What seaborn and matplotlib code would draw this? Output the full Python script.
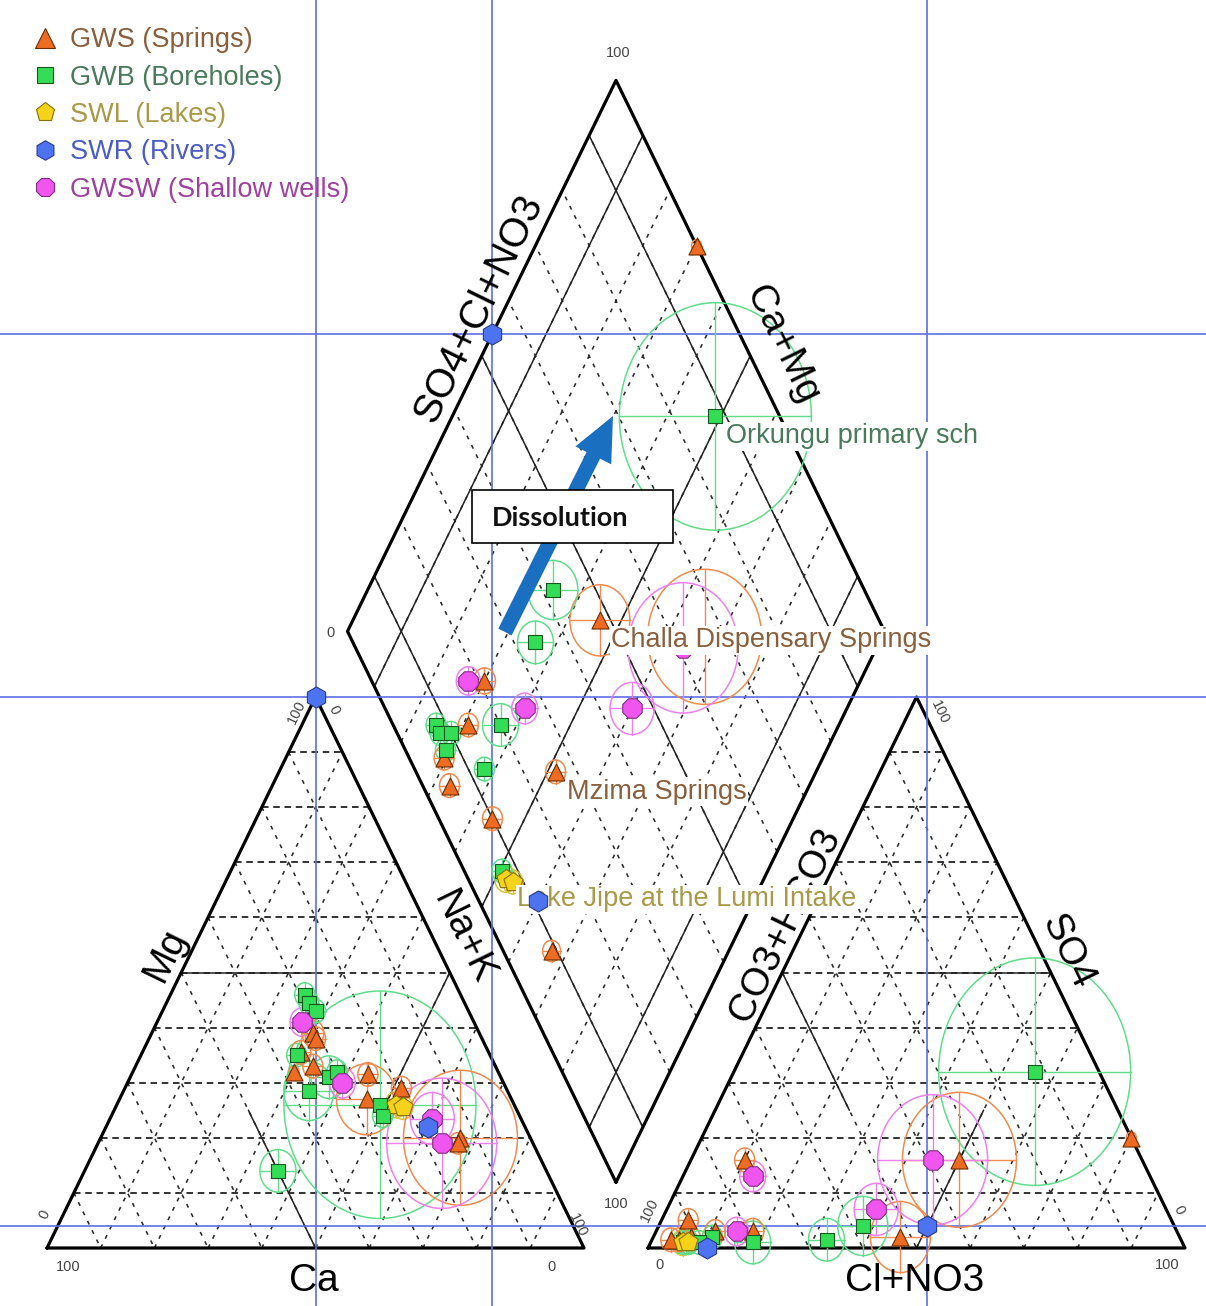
import numpy as np
import pandas as pd
import matplotlib
matplotlib.use("Agg")
import matplotlib.pyplot as plt
from matplotlib.patches import Ellipse, FancyArrow, Rectangle
from matplotlib.lines import Line2D
import seaborn as sns

# ---- data: one entry per sample (meq % of cations / anions, TDS mg/L) ----
groups = ["GWS", "GWB", "SWL", "SWR", "GWSW"]
group_labels = ["GWS (Springs)", "GWB (Boreholes)", "SWL (Lakes)",
                "SWR (Rivers)", "GWSW (Shallow wells)"]

sample_group = ["SWR", "SWR", "SWL", "SWL", "GWB", "GWS", "GWS", "GWS",
                "GWSW", "GWSW", "GWB", "GWB", "GWB", "GWSW", "GWSW", "GWS",
                "GWS", "GWS", "GWS", "GWB", "GWB", "GWB", "GWB", "GWB",
                "GWB", "GWS", "GWS", "GWS"]
ca = [0, 18, 22, 21, 25, 38, 27, 13, 17, 16.5, 37, 50, 32, 30, 32, 31,
      19.5, 24.5, 14, 25.5, 30, 29, 29, 28.5, 36, 31, 35, 34]
mg = [100, 22, 26, 25.5, 26, 32, 27, 20, 19, 23.5, 28.5, 14, 31, 30, 41, 39,
      29, 31.5, 19, 24, 32, 46, 44.5, 43, 35, 38, 35.5, 33]
nak = [0, 60, 52, 53.5, 49, 30, 46, 67, 64, 60, 34.5, 36, 37, 40, 27, 30,
       51.5, 44, 67, 50.5, 38, 25, 26.5, 28.5, 29, 31, 29.5, 33]
hco3 = [46, 89, 93, 92, 12, 0, 52, 34, 39, 54, 58, 66, 80, 74, 82, 79,
        74, 90, 91, 93, 87, 92, 92, 90, 92.5, 86, 93.5, 95]
so4 = [4, 0, 1, 1, 32, 20, 2, 16, 16, 7, 4, 1.5, 1, 13, 3, 3,
       16, 5, 2, 1, 2, 1, 1, 1, 1, 3, 1.5, 1.5]
cl = [50, 11, 6, 7, 56, 80, 46, 50, 45, 39, 38, 32.5, 19, 13, 15, 18,
      10, 5, 7, 6, 11, 7, 7, 9, 6.5, 11, 5, 3.5]
tds = [60, 80, 110, 100, 960, 50, 300, 570, 550, 220, 250, 180, 180, 130,
       120, 110, 100, 100, 90, 100, 100, 100, 100, 100, 100, 100, 100, 100]

sample_names = {4: "Orkungu primary sch", 6: "Challa Dispensary Springs",
                16: "Mzima Springs", 2: "Lake Jipe at the Lumi Intake"}
highlight = 0

# ---- styles ----
marker_of = {"GWS": "^", "GWB": "s", "SWL": "p", "SWR": "h", "GWSW": "8"}
size_of = {"GWS": 150, "GWB": 115, "SWL": 210, "SWR": 230, "GWSW": 230}
face_of = {"GWS": "#EE6B22", "GWB": "#33DD55", "SWL": "#F5D31A",
           "SWR": "#4E73F0", "GWSW": "#F055F0"}
edge_of = {"GWS": "#6A2C00", "GWB": "#14561E", "SWL": "#8A7000",
           "SWR": "#2A3A90", "GWSW": "#803080"}
ring_of = {"GWS": "#F08A4E", "GWB": "#60DD8A", "SWL": "#D8C440",
           "SWR": "#6A8AF0", "GWSW": "#EE80EE"}
text_of = {"GWS": "#8B5E3C", "GWB": "#4A7A5C", "SWL": "#A89A48",
           "SWR": "#4B5BC8", "GWSW": "#A040A0"}

sns.set_theme(style="white")
plt.rcParams["font.family"] = ["Liberation Sans", "DejaVu Sans"]

# ---- geometry (pixel space) ----
W, H = 537.0, 551.0
X0, YB, GAP = 47.0, 1248.0, 64.0
STRETCH = H / (W * np.sqrt(3) / 2)
R_SCALE = 0.1

L_ca = np.array([X0, YB])
L_na = np.array([X0 + W, YB])
L_mg = np.array([X0 + W / 2, YB - H])
R_hc = np.array([X0 + W + GAP, YB])
R_cl = np.array([X0 + 2 * W + GAP, YB])
R_so = np.array([X0 + W + GAP + W / 2, YB - H])
DB = np.array([(L_na[0] + R_hc[0]) / 2, YB - GAP / 2 * H / (W / 2)])
DL = DB + (L_mg - L_na)
DR = DB + (R_so - R_hc)
DT = DL + DR - DB


def tern(p, q, r, A, B, C):
    t = p + q + r
    return (p * A + q * B + r * C) / t


def cation_xy(c, m, n):
    return tern(c, m, n, L_ca, L_mg, L_na)


def anion_xy(h, s, c):
    return tern(h, s, c, R_hc, R_so, R_cl)


def diamond_xy(c, m, n, h, s, cl_):
    cm = (c + m) / (c + m + n)
    a = (s + cl_) / (h + s + cl_)
    return DB + a * (DR - DB) + cm * (DL - DB)


rows = []
for i in range(len(sample_group)):
    pts = {"cation": cation_xy(ca[i], mg[i], nak[i]),
           "anion": anion_xy(hco3[i], so4[i], cl[i]),
           "diamond": diamond_xy(ca[i], mg[i], nak[i], hco3[i], so4[i], cl[i])}
    for panel, p in pts.items():
        rows.append({"sample": i, "group": sample_group[i], "panel": panel,
                     "x": p[0], "y": p[1], "r": tds[i] * R_SCALE})
df = pd.DataFrame(rows)

fig = plt.figure(figsize=(12.06, 13.06), dpi=100)
ax = fig.add_axes([0, 0, 1, 1])


def seg(P, Q, **kw):
    ax.plot([P[0], Q[0]], [P[1], Q[1]], **kw)


grid_h = dict(color="#2a2a2a", lw=1.35, ls=(0, (3.5, 2.5)), zorder=1)
grid_d = dict(color="#2a2a2a", lw=1.15, ls=(0, (2.5, 4)), zorder=1)
solid = dict(color="#222222", lw=1.1, zorder=1.5)
outline = dict(color="black", lw=2.3, zorder=2, solid_capstyle="round")

fr = np.arange(1, 10) / 10


def tri_grid(A, B, C):
    # B is the apex vertex
    for f in fr:
        seg(tern(1 - f, f, 0, A, B, C), tern(0, f, 1 - f, A, B, C), **grid_h)
        seg(tern(f, 1 - f, 0, A, B, C), tern(f, 0, 1 - f, A, B, C), **grid_d)
        seg(tern(1 - f, 0, f, A, B, C), tern(0, 1 - f, f, A, B, C), **grid_d)
    ax.plot([A[0], B[0], C[0], A[0]], [A[1], B[1], C[1], A[1]], **outline)


tri_grid(L_ca, L_mg, L_na)
tri_grid(R_hc, R_so, R_cl)

for P, Q in [((50, 50, 0), (25, 50, 25)), ((50, 0, 50), (50, 25, 25)),
             ((0, 50, 50), (25, 25, 50))]:
    seg(cation_xy(*P), cation_xy(*Q), **solid)
for P, Q in [((0, 50, 50), (25, 50, 25)), ((50, 0, 50), (25, 25, 50)),
             ((50, 50, 0), (50, 25, 25))]:
    seg(anion_xy(*P), anion_xy(*Q), **solid)

for f in fr:
    P = DB + f * (DR - DB)
    seg(P, P + (DL - DB), **grid_d)
    P = DB + f * (DL - DB)
    seg(P, P + (DR - DB), **grid_d)
for f in [0.1, 0.5, 0.9]:
    P = DB + f * (DR - DB)
    seg(P, P + (DL - DB), **solid)
    P = DB + f * (DL - DB)
    seg(P, P + (DR - DB), **solid)
ax.plot([DB[0], DL[0], DT[0], DR[0], DB[0]],
        [DB[1], DL[1], DT[1], DR[1], DB[1]], **outline)

# projection lines of the selected river sample
hl = df[df["sample"] == highlight].set_index("panel")
for panel in ["cation", "anion", "diamond"]:
    ax.axvline(hl.loc[panel, "x"], color="#5E6EE6", lw=1.2, zorder=2.5)
    ax.axhline(hl.loc[panel, "y"], color="#5E6EE6", lw=1.2, zorder=2.5)

# TDS scaled circles with crosshairs
for _, r in df.iterrows():
    col = ring_of[r["group"]]
    rx, ry = r["r"], r["r"] * STRETCH
    ax.add_patch(Ellipse((r["x"], r["y"]), 2 * rx, 2 * ry, fill=False,
                         ec=col, lw=1.1, zorder=3))
    ax.plot([r["x"] - rx, r["x"] + rx], [r["y"], r["y"]], color=col, lw=1.0, zorder=3)
    ax.plot([r["x"], r["x"]], [r["y"] - ry, r["y"] + ry], color=col, lw=1.0, zorder=3)

# sample markers
for g in groups:
    d = df[df["group"] == g]
    sns.scatterplot(data=d, x="x", y="y", marker=marker_of[g], s=size_of[g],
                    color=face_of[g], edgecolor=edge_of[g], linewidth=0.8,
                    ax=ax, legend=False, zorder=7 if g == "SWR" else 5)
ax.set_xlim(0, 1206)
ax.set_ylim(1306, 0)
ax.axis("off")

# sample name labels (diamond)
for i, name in sample_names.items():
    p = df[(df["sample"] == i) & (df["panel"] == "diamond")].iloc[0]
    ax.annotate(name, xy=(p["x"], p["y"]), xytext=(11, -20),
                textcoords="offset pixels", ha="left", va="center",
                fontsize=19.5, color=text_of[sample_group[i]], zorder=6,
                bbox=dict(boxstyle="square,pad=0.05", fc="white", ec="none"))

# axis titles
big = dict(fontsize=28, color="black", ha="center", va="center", zorder=4)
ax.text(L_mg[0] - 150, YB - 293, "Mg", rotation=64, **big)
ax.text(L_mg[0] + 148, YB - 310, "Na+K", rotation=-64, **big)
ax.text(L_mg[0] - 2, YB + 33, "Ca", **big)
ax.text(R_so[0] - 131, YB - 323, "CO3+HCO3", rotation=64, **big)
ax.text(R_so[0] + 151, YB - 296, "SO4", rotation=-64, **big)
ax.text(R_so[0] - 2, YB + 33, "Cl+NO3", **big)
ax.text(DT[0] - 137, DT[1] + 228, "SO4+Cl+NO3", rotation=64, fontsize=29,
        color="black", ha="center", va="center", zorder=4)
ax.text(DT[0] + 166, DT[1] + 265, "Ca+Mg", rotation=-64, **big)

small = dict(fontsize=10.5, color="#444444", ha="center", va="center", zorder=4)
ax.text(L_ca[0] + 21, YB + 19, "100", **small)
ax.text(L_na[0] - 32, YB + 19, "0", **small)
ax.text(L_ca[0] - 2, YB - 33, "0", rotation=64, **small)
ax.text(L_mg[0] - 19, L_mg[1] + 15, "100", rotation=64, **small)
ax.text(L_mg[0] + 18, L_mg[1] + 13, "0", rotation=-64, **small)
ax.text(L_na[0] - 6, YB - 23, "100", rotation=-64, **small)
ax.text(R_hc[0] + 2, YB - 38, "100", rotation=64, **small)
ax.text(R_hc[0] + 12, YB + 17, "0", **small)
ax.text(R_cl[0] - 18, YB + 17, "100", **small)
ax.text(R_cl[0] - 6, YB - 38, "0", rotation=-64, **small)
ax.text(R_so[0] + 23, R_so[1] + 15, "100", rotation=-64, **small)
ax.text(DT[0] + 2, DT[1] - 27, "100", **small)
ax.text(DL[0] - 17, DL[1] + 2, "0", **small)
ax.text(DB[0], DB[1] + 22, "100", **small)

# dissolution arrow and box
ax.add_patch(FancyArrow(505, 632, 108, -216, width=15, head_width=40,
                        head_length=44, length_includes_head=True,
                        color="#1A6FC0", ec="none", zorder=8))
ax.add_patch(Rectangle((472, 490), 201, 53, fc="white", ec="black", lw=1.2, zorder=9))
ax.text(492, 518, "Dissolution", fontsize=19.5, fontweight="bold",
        family=["Lato", "DejaVu Sans"], color="#111111", ha="left",
        va="center", zorder=10)

# legend
handles = [Line2D([0], [0], marker=marker_of[g], ls="none",
                  markersize=11 if g == "GWB" else 14,
                  markerfacecolor=face_of[g], markeredgecolor=edge_of[g],
                  markeredgewidth=0.8)
           for g in groups]
leg = ax.legend(handles, group_labels, loc="upper left",
                bbox_to_anchor=(0.018, 0.9875), frameon=False, fontsize=19.5,
                handlelength=0.9, handletextpad=0.5, labelspacing=0.42,
                borderaxespad=0, labelcolor=[text_of[g] for g in groups])
leg.set_zorder(11)

fig.savefig("out.png", dpi=100)
